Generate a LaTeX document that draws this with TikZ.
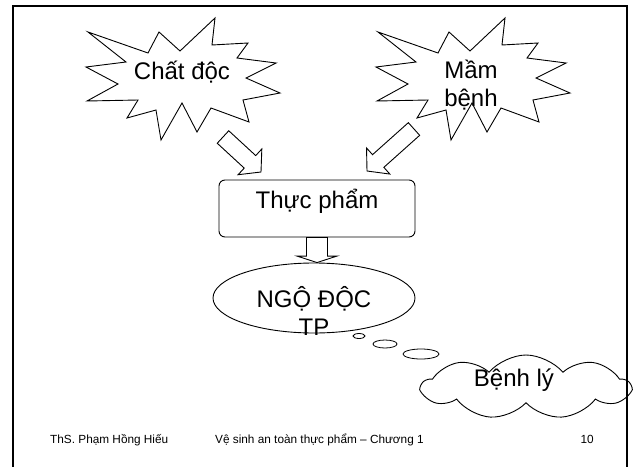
\documentclass[tikz,border=0pt]{standalone}
\usepackage{fontspec}
\setmainfont{Liberation Sans}
\usetikzlibrary{calc,shapes.geometric,shapes.symbols}

% block arrow: tail, tip, half shaft width, half head width, head length
\newcommand\blockarrow[5]{%
  \coordinate (ahead) at ($(#2)!#5!(#1)$);
  \draw[blockarrowstyle]
    ($(#1)!#3!90:(#2)$) -- ($(ahead)!#3!90:(#2)$) --
    ($(ahead)!#4!90:(#2)$) -- (#2) --
    ($(ahead)!#4!-90:(#2)$) -- ($(ahead)!#3!-90:(#2)$) --
    ($(#1)!#3!-90:(#2)$) -- cycle;}

\begin{document}
\begin{tikzpicture}[x=1pt,y=-1pt,
  outline/.style={draw=black,line width=0.9pt,line join=miter},
  thin outline/.style={draw=black,line width=0.8pt},
  bigtext/.style={font=\fontsize{24}{28.5}\selectfont,inner sep=0pt},
  foot/.style={font=\fontsize{11.8}{14}\selectfont,inner sep=0pt},
  blockarrowstyle/.style={outline,fill=white},
  explosion/.pic={
    \draw[outline,fill=white] (88,32) -- (148,53) -- (159,32) -- (180,51) --
      (215,18) -- (212,45) -- (248,43) -- (237,58) -- (276,63) --
      (246,78) -- (280,93) -- (243,100) -- (249,122) -- (211,108) --
      (197,132) -- (182,103) -- (161,140) -- (156,110) -- (127,118) --
      (138,100) -- (87,101) -- (118,84) -- (86,67) -- (126,62) -- cycle;
  }]
\useasboundingbox (0,0) rectangle (634,466);
\clip (0,0) rectangle (634,466);
\fill[white] (0,0) rectangle (634,466);

% the two bursts
\pic at (0,0) {explosion};
\pic at (290,0) {explosion};
\node[bigtext,anchor=base] (chatdoc) at (182,79) {Chất độc};
\node[bigtext,align=center] (mambenh) at (471,85) {Mầm\\bệnh};

% food box
\node[outline,rounded corners=6pt,minimum width=196pt,minimum height=57pt,
      bigtext,text height=8pt,text depth=8pt] (thucpham) at (317,208.5) {Thực phẩm};

% poisoning ellipse
\node[ellipse,outline,minimum width=202pt,minimum height=70pt,inner sep=0pt]
  (ngodoc) at (314,298) {};
\node[bigtext,align=center] (ngodoctext) at (314,311) {NGỘ ĐỘC\\TP};

% arrows into and out of the food box
\coordinate (tailA) at (223,137);
\coordinate (tipA) at (261,172);
\coordinate (tailB) at (414,129);
\coordinate (tipB) at (367,171);
\blockarrow{tailA}{tipA}{8.5pt}{17.5pt}{15pt}
\blockarrow{tailB}{tipB}{8.5pt}{17.5pt}{15pt}
\coordinate (tailC) at (thucpham.south);
\coordinate (tipC) at (thucpham.south |- ngodoc.north);
\blockarrow{tailC}{tipC}{10.5pt}{20pt}{6.5pt}

% thought bubbles leading to the cloud
\node[ellipse,thin outline,minimum width=12pt,minimum height=5pt,inner sep=0pt] (bub1) at (359,336) {};
\node[ellipse,thin outline,minimum width=24pt,minimum height=8pt,inner sep=0pt] (bub2) at (385,344) {};
\node[ellipse,thin outline,minimum width=36pt,minimum height=10pt,inner sep=0pt] (bub3) at (421,354) {};
\node[cloud,outline,fill=white,cloud puffs=9,cloud puff arc=100,aspect=3.3,
      minimum width=208pt,minimum height=64pt,inner sep=0pt]
  (cloud) at (526,387) {};
\node[bigtext,anchor=base] (benhly) at (514,386) {Bệnh lý};

% footer
\node[foot,anchor=base west] (author) at (50,443) {ThS. Phạm Hồng Hiếu};
\node[foot,anchor=base west] (course) at (215,443) {Vệ sinh an toàn thực phẩm – Chương 1};
\node[foot,anchor=base east] (page) at (594,443) {10};

% slide frame
\draw[line width=2.5pt] (13,490) -- (13,6) -- (627,6) -- (627,490);
\end{tikzpicture}
\end{document}
